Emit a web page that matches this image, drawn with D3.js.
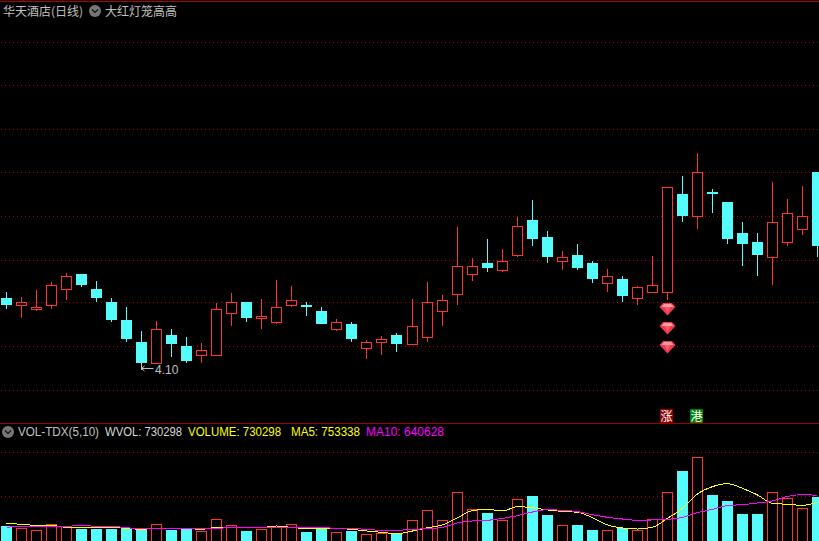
<!DOCTYPE html>
<html><head><meta charset="utf-8">
<script src="https://cdn.jsdelivr.net/npm/d3@7"></script>
<style>html,body{margin:0;padding:0;background:#000;overflow:hidden}svg{display:block}
text{font-family:"Liberation Sans",Arial,sans-serif;font-size:12px}
.cjk{font-family:"Noto Sans CJK SC",sans-serif}</style>
</head><body><svg id="c" width="819" height="541"></svg>
<script>
const opens=[4.380,4.352,4.336,4.352,4.416,4.476,4.416,4.364,4.292,4.204,4.120,4.232,4.188,4.152,4.152,4.320,4.364,4.300,4.284,4.352,4.352,4.328,4.256,4.276,4.180,4.204,4.232,4.196,4.224,4.328,4.396,4.476,4.520,4.492,4.552,4.692,4.624,4.528,4.552,4.520,4.440,4.456,4.380,4.404,4.404,4.796,4.708,4.804,4.764,4.640,4.604,4.544,4.604,4.656,4.884];
const closes=[4.352,4.364,4.344,4.432,4.468,4.432,4.380,4.292,4.216,4.120,4.256,4.196,4.128,4.172,4.336,4.364,4.300,4.308,4.344,4.372,4.344,4.276,4.284,4.216,4.204,4.216,4.196,4.268,4.364,4.372,4.508,4.508,4.500,4.528,4.668,4.616,4.544,4.544,4.500,4.456,4.468,4.388,4.424,4.432,4.824,4.708,4.884,4.796,4.616,4.596,4.552,4.684,4.720,4.708,4.588];
const highs=[4.404,4.384,4.412,4.444,4.480,4.476,4.448,4.380,4.344,4.248,4.288,4.256,4.224,4.200,4.360,4.400,4.364,4.376,4.452,4.428,4.364,4.344,4.296,4.284,4.212,4.228,4.240,4.376,4.444,4.392,4.664,4.540,4.616,4.576,4.704,4.772,4.648,4.568,4.596,4.528,4.496,4.468,4.428,4.548,4.824,4.868,4.960,4.816,4.764,4.684,4.640,4.844,4.776,4.828,4.884];
const lows=[4.336,4.300,4.328,4.336,4.372,4.424,4.364,4.284,4.204,4.100,4.120,4.144,4.120,4.120,4.152,4.268,4.284,4.256,4.276,4.344,4.308,4.276,4.248,4.204,4.136,4.152,4.164,4.196,4.204,4.268,4.352,4.448,4.484,4.484,4.544,4.588,4.520,4.492,4.492,4.440,4.404,4.364,4.352,4.404,4.372,4.684,4.656,4.720,4.596,4.508,4.468,4.432,4.588,4.632,4.544];
const volumes=[249,216,183,282,249,199,199,199,216,183,282,183,199,166,365,266,166,199,232,282,149,199,149,166,116,133,116,349,515,349,813,531,465,349,697,747,432,266,266,183,183,216,183,365,813,1162,1394,764,664,448,448,813,714,548,730];
const ma5=[293,277,260,260,227,232,232,232,210,194,210,205,205,194,227,216,216,221,249,227,205,205,205,194,166,144,122,166,221,266,387,504,526,498,570,553,515,492,476,387,266,216,199,227,376,542,780,902,952,874,764,625,609,592,642];
const ma10=[227,243,243,243,243,260,243,243,221,205,205,205,205,205,210,221,221,227,227,221,221,221,210,205,194,177,177,194,205,227,299,332,343,376,421,481,520,509,487,437,393,365,343,349,360,393,470,526,587,603,631,664,741,769,758];
const priceGrid=[5.404,5.232,5.056,4.884,4.708,4.532,4.364,4.188,4.012];
const volGrid=[1477,747];
const gemPrices=[4.336,4.260,4.184];
const gemIndex=44;
const tagIndex=[44,46];
const tagText=["涨","港"];
const titleLeft="华天酒店(日线)", titleRight="大红灯笼高高";
const legendText=["VOL-TDX(5,10)","WVOL: 730298","VOLUME: 730298","MA5: 753338","MA10: 640628"];
const lowLabel="4.10";

const legendX=[18,105,188,291,366],legendW=[81,77,93,69,78],legendC=["#c0c0c0","#d8d8d8","#ffff00","#ffff00","#ff00ff"];
const tagFill=["#8c0000","#008000"];
const RED="#ff3232",CYAN="#54fcfc",GRID="#b00000";
const svg=d3.select("#c");
svg.append("rect").attr("width",819).attr("height",541).attr("fill","#000");

const xs=d3.scaleLinear().domain([0,54]).range([6.2,817.82]);
const x=i=>Math.floor(xs(i))+.5;
const y=d3.scaleLinear().domain([5.572,3.88]).range([0,423]);
const yv=d3.scaleLinear().domain([0,1394]).range([541,457]);

// grid, drawn through d3 axes
function grid(scale,vals){
  const g=svg.append("g").call(d3.axisRight(scale).tickValues(vals).tickSize(819).tickFormat(""));
  g.select(".domain").remove();
  g.selectAll("line").attr("stroke",GRID).attr("stroke-dasharray","1 3").attr("shape-rendering","crispEdges");
  g.selectAll(".tick").attr("transform",d=>`translate(1,${Math.round(scale(d))+0.5})`);
}
grid(y,priceGrid);
grid(yv,volGrid);

// frame lines
const frame=svg.append("g").attr("stroke","#a00000").attr("shape-rendering","crispEdges");
frame.append("line").attr("x1",0).attr("x2",819).attr("y1",1.5).attr("y2",1.5).attr("stroke","#b00000");
frame.append("line").attr("x1",0).attr("x2",819).attr("y1",423.5).attr("y2",423.5);
frame.append("line").attr("x1",23.5).attr("x2",23.5).attr("y1",0).attr("y2",1).attr("stroke","#b00000");

const idx=d3.range(opens.length);
const up=i=>closes[i]>=opens[i];
const col=i=>up(i)?RED:CYAN;

// candles
const k=svg.append("g").attr("shape-rendering","crispEdges");
k.selectAll(".w").data(idx).join("line").attr("x1",i=>x(i)).attr("x2",i=>x(i))
 .attr("y1",i=>Math.round(y(highs[i]))).attr("y2",i=>Math.round(y(lows[i]))).attr("stroke",col);
k.selectAll(".b").data(idx).join("rect").each(function(i){
  const t=Math.round(y(Math.max(opens[i],closes[i]))),b=Math.round(y(Math.min(opens[i],closes[i])));
  const s=d3.select(this);
  if(up(i)) s.attr("x",x(i)-5).attr("width",10).attr("y",t+.5).attr("height",Math.max(b-t,1)).attr("fill","#000").attr("stroke",RED);
  else s.attr("x",x(i)-5.5).attr("width",11).attr("y",t).attr("height",Math.max(b-t,2)).attr("fill",CYAN);
});

// volume bars
const v=svg.append("g").attr("shape-rendering","crispEdges");
v.selectAll("rect").data(idx).join("rect").each(function(i){
  const t=Math.round(yv(volumes[i]));
  const s=d3.select(this);
  if(up(i)) s.attr("x",x(i)-5).attr("width",10).attr("y",t+.5).attr("height",560-t).attr("fill","#000").attr("stroke",RED);
  else s.attr("x",x(i)-5.5).attr("width",11).attr("y",t).attr("height",560-t).attr("fill",CYAN);
});
const line=a=>d3.line().x(i=>x(i)).y(i=>yv(a[i])).curve(d3.curveMonotoneX)(idx);
svg.append("path").attr("d",line(ma5)).attr("fill","none").attr("stroke","#ffff00").attr("stroke-width",1).attr("shape-rendering","crispEdges");
svg.append("path").attr("d",line(ma10)).attr("fill","none").attr("stroke","#ff00ff").attr("stroke-width",1).attr("shape-rendering","crispEdges");

// low annotation
const lx=x(9),ly=y(lows[9]);
svg.append("path").attr("d",`M${lx} ${ly-5}V${ly+2}M${lx} ${ly+.5}H${lx+12}M${lx} ${ly+.5}l3 -2.5M${lx} ${ly+.5}l3 2.5`)
 .attr("fill","none").attr("stroke","#c0c0c0").attr("stroke-width",1);
svg.append("text").attr("x",lx+13.5).attr("y",ly+6).attr("fill","#c0c0c0").text(lowLabel);

// gems
const gem=svg.append("g").selectAll("g").data(gemPrices).join("g")
 .attr("transform",d=>`translate(${x(gemIndex)},${y(d)})`);
gem.append("path").attr("d","M-4.5 -6H4.5L8 -2L0 6.5L-8 -2Z").attr("fill","#ee3a4e");
gem.append("path").attr("d","M-3.5 -5H3.5L6 -2H-6Z").attr("fill","#ff9aa0");
gem.append("path").attr("d","M-3 -2H3L0 4Z").attr("fill","#ff5a6c");

// tags
const tg=svg.append("g").selectAll("g").data(d3.range(tagIndex.length)).join("g")
 .attr("transform",j=>`translate(${x(tagIndex[j])-7.5},409)`);
tg.append("rect").attr("width",13).attr("height",14).attr("fill",j=>tagFill[j]);
tg.append("text").attr("class","cjk").attr("x",6.5).attr("y",11.5).attr("text-anchor","middle").attr("fill","#fff").text(j=>tagText[j]);

// drop-down icon
function icon(cx,cy){
  svg.append("circle").attr("cx",cx).attr("cy",cy).attr("r",6).attr("fill","#777");
  svg.append("path").attr("d",`M${cx-3} ${cy-1.5}L${cx} ${cy+1.5}L${cx+3} ${cy-1.5}`).attr("fill","none").attr("stroke","#111").attr("stroke-width",1.2);
}
icon(95,11);icon(8,432);

svg.append("text").attr("class","cjk").attr("x",3).attr("y",16).attr("fill","#c0c0c0").text(titleLeft);
svg.append("text").attr("class","cjk").attr("x",105).attr("y",16).attr("fill","#c0c0c0").text(titleRight);
svg.append("g").selectAll("text").data(d3.range(legendText.length)).join("text")
 .attr("x",j=>legendX[j]).attr("y",436).attr("fill",j=>legendC[j])
 .attr("textLength",j=>legendW[j]).attr("lengthAdjust","spacingAndGlyphs").text(j=>legendText[j]);
</script></body></html>
